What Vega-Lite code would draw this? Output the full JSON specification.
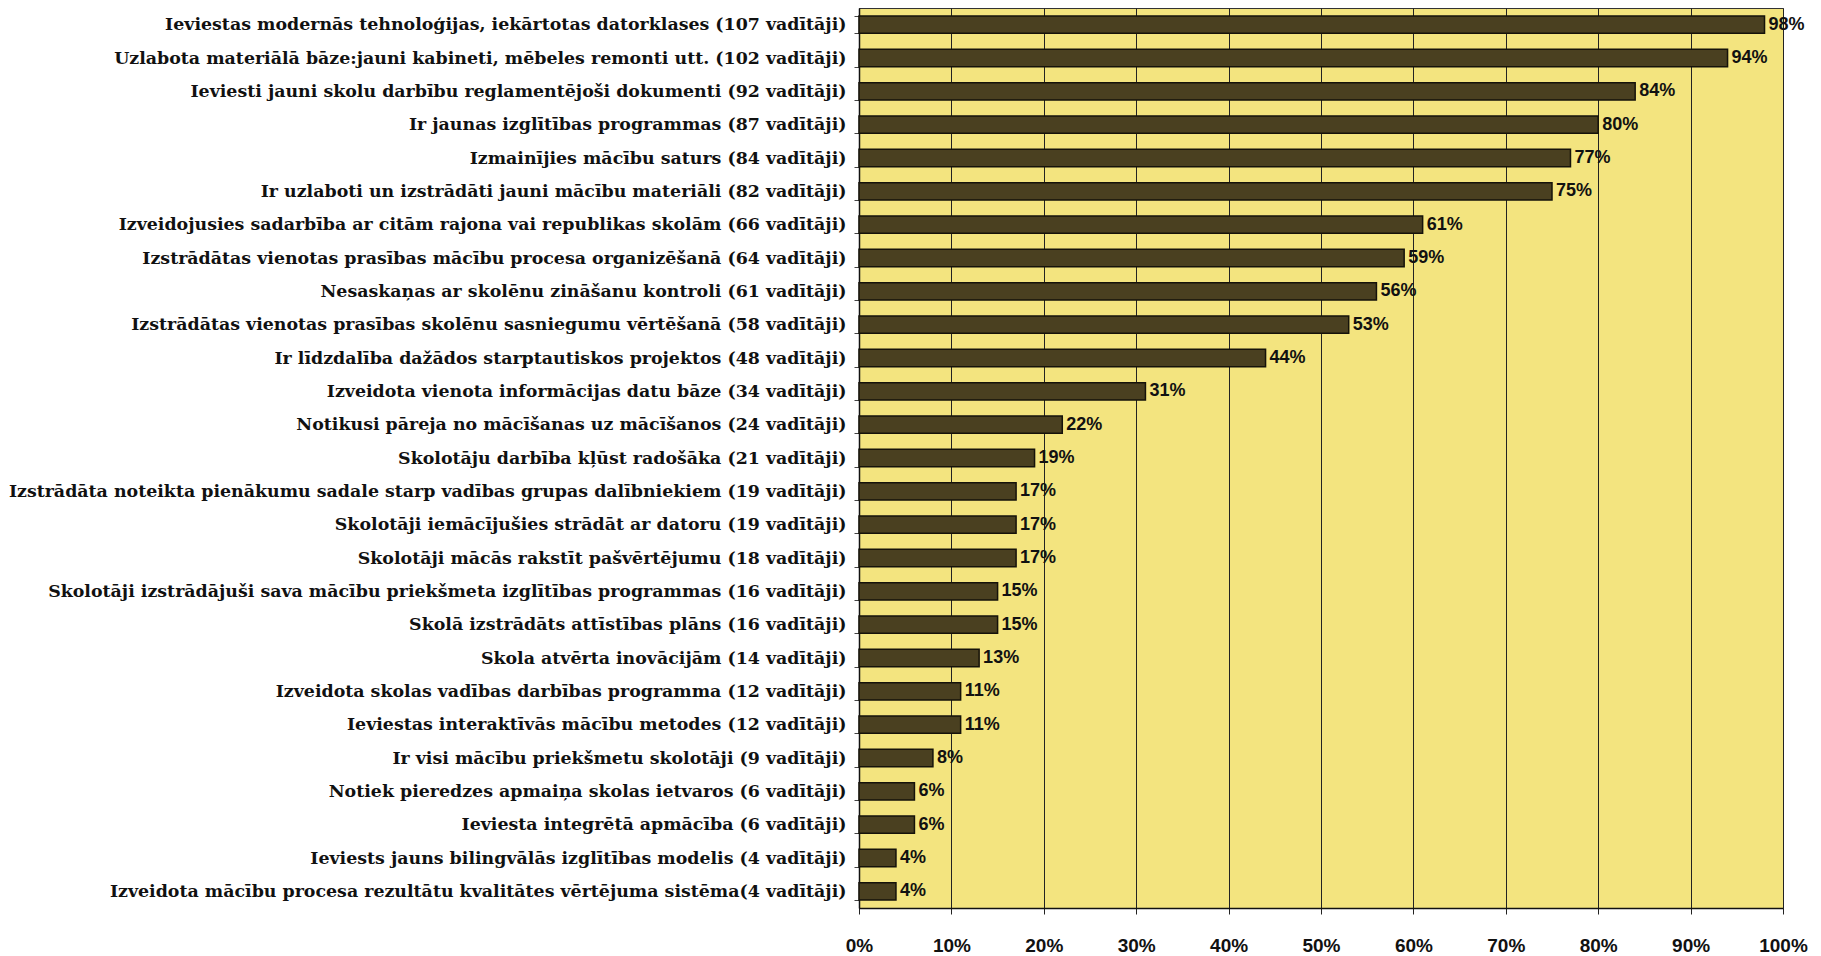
{
  "$schema": "https://vega.github.io/schema/vega-lite/v6.json",
  "width": 924,
  "height": 900,
  "autosize": {"type": "none"},
  "padding": {"left": 859, "top": 8, "right": 38, "bottom": 48},
  "background": "white",
  "config": {"view": {"fill": "#f3e47f", "stroke": "#333", "strokeWidth": 1}},
  "data": {"values": [
    {"label": "Ieviestas modernās tehnoloģijas, iekārtotas datorklases (107 vadītāji)", "pct": 0.98},
    {"label": "Uzlabota materiālā bāze:jauni kabineti, mēbeles remonti utt. (102 vadītāji)", "pct": 0.94},
    {"label": "Ieviesti jauni skolu darbību reglamentējoši dokumenti (92 vadītāji)", "pct": 0.84},
    {"label": "Ir jaunas izglītības programmas (87 vadītāji)", "pct": 0.80},
    {"label": "Izmainījies mācību saturs (84 vadītāji)", "pct": 0.77},
    {"label": "Ir uzlaboti un izstrādāti jauni mācību materiāli (82 vadītāji)", "pct": 0.75},
    {"label": "Izveidojusies sadarbība ar citām rajona vai republikas skolām (66 vadītāji)", "pct": 0.61},
    {"label": "Izstrādātas vienotas prasības mācību procesa organizēšanā  (64 vadītāji)", "pct": 0.59},
    {"label": "Nesaskaņas ar skolēnu zināšanu kontroli (61 vadītāji)", "pct": 0.56},
    {"label": "Izstrādātas vienotas prasības skolēnu sasniegumu vērtēšanā (58 vadītāji)", "pct": 0.53},
    {"label": "Ir līdzdalība dažādos starptautiskos projektos (48 vadītāji)", "pct": 0.44},
    {"label": "Izveidota vienota informācijas datu bāze (34 vadītāji)", "pct": 0.31},
    {"label": "Notikusi pāreja no mācīšanas uz mācīšanos (24 vadītāji)", "pct": 0.22},
    {"label": "Skolotāju darbība kļūst radošāka (21 vadītāji)", "pct": 0.19},
    {"label": "Izstrādāta noteikta pienākumu sadale starp vadības grupas dalībniekiem (19 vadītāji)", "pct": 0.17},
    {"label": "Skolotāji iemācījušies strādāt ar datoru (19 vadītāji)", "pct": 0.17},
    {"label": "Skolotāji mācās rakstīt pašvērtējumu (18 vadītāji)", "pct": 0.17},
    {"label": "Skolotāji izstrādājuši sava mācību priekšmeta izglītības programmas (16 vadītāji)", "pct": 0.15},
    {"label": "Skolā izstrādāts attīstības plāns (16 vadītāji)", "pct": 0.15},
    {"label": "Skola atvērta inovācijām (14 vadītāji)", "pct": 0.13},
    {"label": "Izveidota skolas vadības darbības programma (12 vadītāji)", "pct": 0.11},
    {"label": "Ieviestas interaktīvās mācību metodes (12 vadītāji)", "pct": 0.11},
    {"label": "Ir visi mācību priekšmetu skolotāji (9 vadītāji)", "pct": 0.08},
    {"label": "Notiek pieredzes apmaiņa skolas ietvaros (6 vadītāji)", "pct": 0.06},
    {"label": "Ieviesta integrētā apmācība (6  vadītāji)", "pct": 0.06},
    {"label": "Ieviests jauns bilingvālās izglītības modelis (4 vadītāji)", "pct": 0.04},
    {"label": "Izveidota mācību procesa rezultātu kvalitātes vērtējuma sistēma(4 vadītāji)", "pct": 0.04}
  ]},
  "encoding": {
    "y": {
      "field": "label", "type": "nominal", "sort": null,
      "scale": {"paddingInner": 0.48, "paddingOuter": 0.24},
      "axis": {
        "title": null, "labelFont": "DejaVu Serif", "labelFontWeight": "bold",
        "labelFontSize": 17.4, "labelColor": "#111", "labelPadding": 8, "labelLimit": 0,
        "tickSize": 5, "tickBand": "extent", "tickColor": "#444",
        "domainColor": "#111", "domainWidth": 1.5
      }
    },
    "x": {
      "field": "pct", "type": "quantitative",
      "scale": {"domain": [0, 1]},
      "axis": {
        "title": null, "format": ".0%",
        "values": [0, 0.1, 0.2, 0.3, 0.4, 0.5, 0.6, 0.7, 0.8, 0.9, 1],
        "grid": true, "gridColor": "#222", "gridWidth": 1, "gridOpacity": 1,
        "labelFont": "Liberation Sans", "labelFontWeight": "bold", "labelFontSize": 19,
        "labelColor": "#111", "labelPadding": 22, "labelFlush": false,
        "tickSize": 6, "tickColor": "#222", "domainColor": "#111", "domainWidth": 1.5
      }
    }
  },
  "layer": [
    {"mark": {"type": "bar", "fill": "#4a4020", "stroke": "#15120a", "strokeWidth": 1.5}},
    {
      "mark": {"type": "text", "align": "left", "baseline": "middle", "dx": 4,
               "font": "Liberation Sans", "fontWeight": "bold", "fontSize": 18, "color": "#111"},
      "encoding": {"text": {"field": "pct", "type": "quantitative", "format": ".0%"}}
    }
  ]
}
